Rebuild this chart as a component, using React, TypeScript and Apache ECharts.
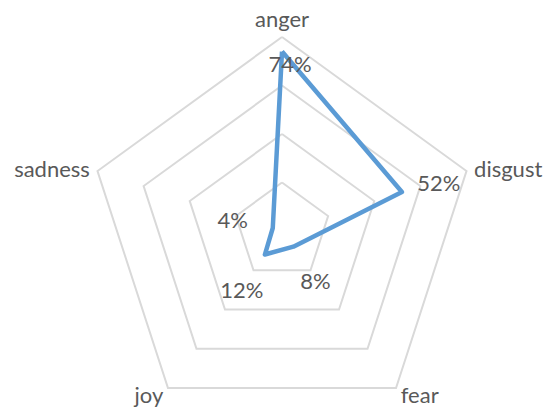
import React, { useEffect, useRef } from "react";
import * as echarts from "echarts";

// Indicators listed counter-clockwise from the top (ECharts radar order)
const categories = ["anger", "sadness", "joy", "fear", "disgust"];
const values = [74, 4, 12, 8, 52];
const maxValue = 80;

// label offsets per indicator (px), same order as categories
const labelOffsets: [number, number][] = [
  [8, 12],
  [-40, -9],
  [-23, 35],
  [22, 34],
  [37, -10],
];

const FONT = "Lato, 'Open Sans', sans-serif";
const TEXT = "#595959";

export default function App() {
  const ref = useRef<HTMLDivElement>(null);
  useEffect(() => {
    document.body.style.margin = "0";
    const chart = echarts.init(ref.current!, null, { renderer: "svg" });
    const labelSeries = categories.map((_, k) => ({
      type: "radar" as const,
      symbol: "circle",
      symbolSize: 1,
      itemStyle: { color: "rgba(0,0,0,0)" },
      lineStyle: { width: 0, opacity: 0 },
      silent: true,
      label: {
        show: true,
        position: "inside",
        offset: labelOffsets[k],
        color: TEXT,
        fontFamily: FONT,
        fontSize: 22,
        formatter: (p: any) => {
          const idx = p.dimensionIndex;
          const match = idx != null ? idx === k : p.value === values[k];
          return match ? `${values[k]}%` : "";
        },
      },
      data: [{ value: values }],
    }));
    chart.setOption({
      animation: false,
      radar: {
        center: [282, 231],
        radius: 194,
        startAngle: 90,
        shape: "polygon",
        splitNumber: 4,
        indicator: categories.map((name) => ({ name, max: maxValue, min: 0 })),
        axisName: {
          color: TEXT,
          fontFamily: FONT,
          fontSize: 22,
        },
        nameGap: 8,
        axisLine: { show: false },
        axisTick: { show: false },
        splitArea: { show: false },
        splitLine: { lineStyle: { color: "#D9D9D9", width: 2 } },
      },
      series: [
        {
          type: "radar",
          symbol: "none",
          lineStyle: { color: "#5B9BD5", width: 4.5, join: "round" },
          data: [{ value: values }],
        },
        ...labelSeries,
      ],
    });
    return () => chart.dispose();
  }, []);
  return <div ref={ref} style={{ width: 552, height: 411 }} />;
}
